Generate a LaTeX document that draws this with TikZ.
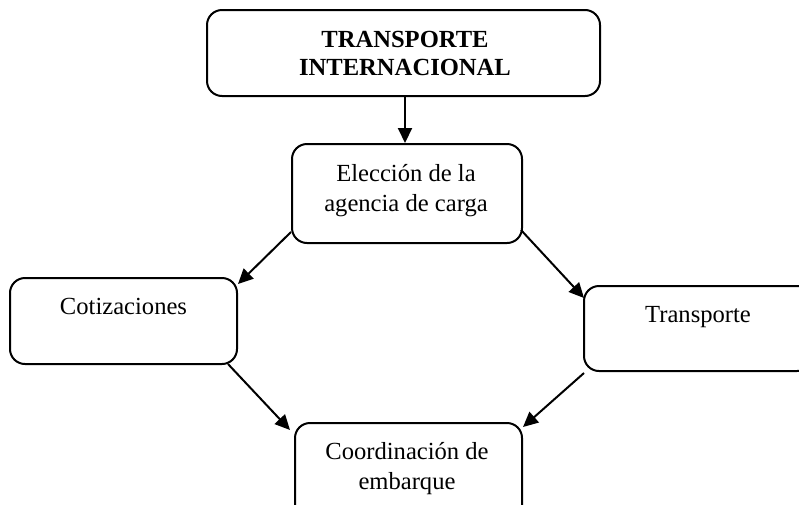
\documentclass[tikz,border=0pt]{standalone}
\usepackage{fontspec}
\setmainfont{Liberation Serif}
\usetikzlibrary{arrows.meta,calc}
\begin{document}
\begin{tikzpicture}[x=1pt,y=-1pt,
  box/.style={draw,line width=2pt,rounded corners=15pt,inner sep=0pt},
  txt/.style={inner sep=0pt,align=center,font=\fontsize{24.6}{30}\selectfont},
  conn/.style={line width=2pt,-{Triangle[length=15pt,width=14pt]}}]
\useasboundingbox (0,0) rectangle (799,504);
\node[box,minimum width=393pt,minimum height=86pt] (top) at (403.5,53) {};
\node[box,minimum width=230pt,minimum height=99pt] (elec) at (407,193.5) {};
\node[box,minimum width=227pt,minimum height=86pt] (cot) at (123.5,321) {};
\node[box,minimum width=228pt,minimum height=85pt] (tra) at (698,328.5) {};
\node[box,minimum width=227pt,minimum height=98pt] (coord) at (408.5,472) {};
\node[txt,anchor=base,font=\fontsize{24.6}{28}\selectfont\bfseries] (ttop) at (405,75) {TRANSPORTE\\INTERNACIONAL};
\node[txt,anchor=base] (telec) at (406,211) {Elección de la\\agencia de carga};
\node[txt,anchor=base] (tcot) at (123.5,314) {Cotizaciones};
\node[txt,anchor=base] (ttra) at (698,322) {Transporte};
\node[txt,anchor=base] (tcoord) at (407,489) {Coordinación de\\embarque};
\draw[conn] ($(top.south)+(1.5,0)$) -- ($(elec.north)+(-2,0)$);
\draw[conn] ($(elec.south west)+(0,-12)$) -- ($(cot.north east)+(0,7)$);
\draw[conn] ($(elec.south east)+(-2,-14)$) -- ($(tra.north west)+(1,13)$);
\draw[conn] ($(cot.south east)+(-10,-1)$) -- ($(coord.north west)+(-4,8)$);
\draw[conn] ($(tra.south west)+(1,1)$) -- ($(coord.north east)+(0,5)$);
\end{tikzpicture}
\end{document}
